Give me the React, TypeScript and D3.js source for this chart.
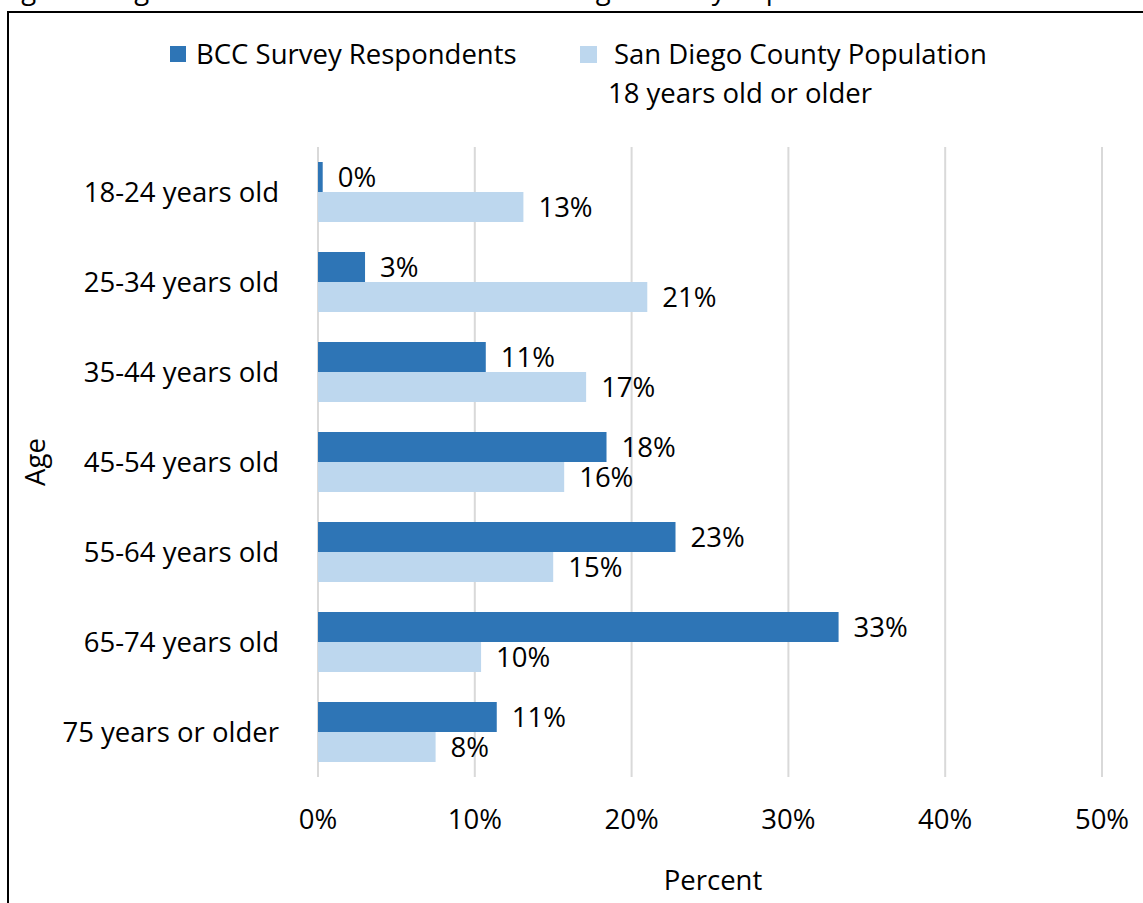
import React from 'react'
import * as d3 from 'd3'

const AGES = [
  '18-24 years old',
  '25-34 years old',
  '35-44 years old',
  '45-54 years old',
  '55-64 years old',
  '65-74 years old',
  '75 years or older'
]
const BCC = [0.3, 3.0, 10.7, 18.4, 22.8, 33.2, 11.4]
const SD_POP = [13.1, 21.0, 17.1, 15.7, 15.0, 10.4, 7.5]
const BCC_LABELS = ['0%', '3%', '11%', '18%', '23%', '33%', '11%']
const SD_LABELS = ['13%', '21%', '17%', '16%', '15%', '10%', '8%']
const X_TICKS = [0, 10, 20, 30, 40, 50]

const W = 1143
const H = 903
const margin = { top: 147, right: 41, bottom: 126, left: 318 }
const FONT = '"Open Sans", Lato, sans-serif'
const FS = 27.5
const DARK = '#2e75b6'
const LIGHT = '#bdd7ee'

export default function App() {
  const x = d3.scaleLinear()
    .domain([0, 50])
    .range([margin.left, W - margin.right])

  const y = d3.scaleBand()
    .domain(AGES)
    .range([margin.top, H - margin.bottom])
    .paddingInner(1 / 3)
    .paddingOuter(1 / 6)

  const sub = d3.scaleBand()
    .domain(['bcc', 'sd'])
    .range([0, y.bandwidth()])

  const bars = AGES.map((age, i) => {
    const y0 = y(age) as number
    const yb = y0 + (sub('bcc') as number)
    const ys = y0 + (sub('sd') as number)
    const bh = sub.bandwidth()
    return (
      <g key={age}>
        <rect x={x(0)} y={yb} width={x(BCC[i]) - x(0)} height={bh} fill={DARK} />
        <rect x={x(0)} y={ys} width={x(SD_POP[i]) - x(0)} height={bh} fill={LIGHT} />
        <text x={x(BCC[i]) + 15} y={yb + bh / 2} dy="0.35em" fontSize={FS}>{BCC_LABELS[i]}</text>
        <text x={x(SD_POP[i]) + 15} y={ys + bh / 2} dy="0.35em" fontSize={FS}>{SD_LABELS[i]}</text>
      </g>
    )
  })

  const gridTop = margin.top
  const gridBottom = H - margin.bottom

  return (
    <div style={{ position: 'absolute', left: 0, top: 0, width: W, height: H, overflow: 'hidden', background: '#fff' }}>
      <svg width={W} height={H} style={{ display: 'block', fontFamily: FONT }}>
        <rect width={W} height={H} fill="#fff" />
        {/* figure caption sits above the crop, only its descenders show */}
        <text x={0} y={-1} fontSize={FS} fill="#000">Figure 6. Age of BCC Members and the San Diego County Population</text>
        <rect x={8} y={12} width={W + 20} height={H + 20} fill="none" stroke="#000" strokeWidth={2} />

        {X_TICKS.map(t => (
          <line key={t} x1={x(t)} x2={x(t)} y1={gridTop} y2={gridBottom} stroke="#d9d9d9" strokeWidth={2} />
        ))}

        {bars}

        {AGES.map(age => (
          <text key={age} x={279} y={(y(age) as number) + y.bandwidth() / 2} dy="0.35em" textAnchor="end" fontSize={FS}>{age}</text>
        ))}

        {X_TICKS.map(t => (
          <text key={t} x={x(t)} y={819} dy="0.35em" textAnchor="middle" fontSize={FS}>{t}%</text>
        ))}

        <text x={713} y={880} dy="0.35em" textAnchor="middle" fontSize={FS}>Percent</text>
        <text transform={`translate(35,${(gridTop + gridBottom) / 2})rotate(-90)`} dy="0.35em" textAnchor="middle" fontSize={FS}>Age</text>

        <rect x={170} y={46} width={16} height={16} fill={DARK} />
        <text x={196} y={54} dy="0.35em" fontSize={FS}>BCC Survey Respondents</text>
        <rect x={580} y={46} width={17} height={17} fill={LIGHT} />
        <text x={614} y={54} dy="0.35em" fontSize={FS}>San Diego County Population</text>
        <text x={608} y={93} dy="0.35em" fontSize={FS}>18 years old or older</text>
      </svg>
    </div>
  )
}
